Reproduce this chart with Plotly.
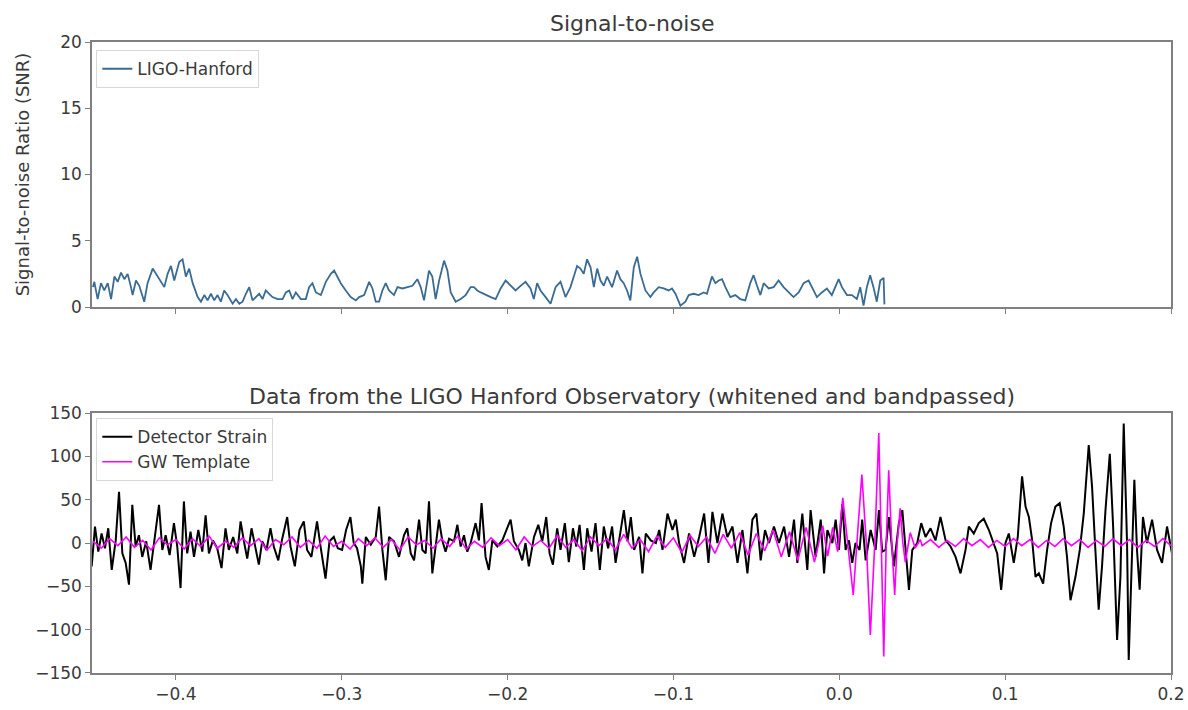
import plotly.graph_objects as go
from plotly.subplots import make_subplots

# ---------------------------------------------------------------
# Signal-to-noise ratio time series (LIGO-Hanford), seconds vs SNR
# ---------------------------------------------------------------
snr_time = [
    -0.4500, -0.4492, -0.4472, -0.4452, -0.4432, -0.4411, -0.4391, -0.4371, -0.4351, -0.4331,
    -0.4311, -0.4291, -0.4271, -0.4261, -0.4241, -0.4221, -0.4191, -0.4171, -0.4140, -0.4120,
    -0.4100, -0.4070, -0.4050, -0.4030, -0.4010, -0.3980, -0.3960, -0.3940, -0.3920, -0.3899,
    -0.3869, -0.3849, -0.3829, -0.3809, -0.3789, -0.3769, -0.3749, -0.3729, -0.3709, -0.3689,
    -0.3658, -0.3638, -0.3618, -0.3598, -0.3578, -0.3558, -0.3538, -0.3518, -0.3498, -0.3478,
    -0.3458, -0.3438, -0.3418, -0.3387, -0.3357, -0.3337, -0.3317, -0.3297, -0.3277, -0.3247,
    -0.3217, -0.3197, -0.3177, -0.3156, -0.3126, -0.3096, -0.3066, -0.3046, -0.3026, -0.3006,
    -0.2976, -0.2946, -0.2915, -0.2895, -0.2865, -0.2835, -0.2815, -0.2795, -0.2775, -0.2755,
    -0.2735, -0.2715, -0.2685, -0.2664, -0.2634, -0.2604, -0.2574, -0.2544, -0.2524, -0.2504,
    -0.2474, -0.2454, -0.2434, -0.2413, -0.2383, -0.2363, -0.2343, -0.2313, -0.2283, -0.2253,
    -0.2223, -0.2203, -0.2183, -0.2162, -0.2132, -0.2102, -0.2072,
    -0.2042, -0.2012, -0.1982, -0.1952, -0.1922, -0.1892, -0.1862, -0.1842, -0.1822, -0.1802,
    -0.1771, -0.1741, -0.1711, -0.1681, -0.1651, -0.1621, -0.1601, -0.1581, -0.1561, -0.1541,
    -0.1521, -0.1500, -0.1480, -0.1460, -0.1440, -0.1420, -0.1400, -0.1370, -0.1340, -0.1320,
    -0.1300, -0.1280, -0.1260, -0.1239, -0.1219, -0.1199, -0.1169, -0.1139, -0.1119, -0.1089,
    -0.1059, -0.1029, -0.1009, -0.0988, -0.0958, -0.0928, -0.0908, -0.0878, -0.0848, -0.0818,
    -0.0798, -0.0768, -0.0747, -0.0727, -0.0707, -0.0687, -0.0657, -0.0627, -0.0597, -0.0567,
    -0.0537, -0.0517, -0.0496, -0.0476, -0.0456, -0.0426, -0.0396, -0.0366, -0.0336, -0.0306,
    -0.0276, -0.0245, -0.0215, -0.0185, -0.0155, -0.0135, -0.0105, -0.0075, -0.0045, -0.0025,
    -0.0004, 0.0016, 0.0046, 0.0076, 0.0106, 0.0126, 0.0146, 0.0166, 0.0186, 0.0206,
    0.0226, 0.0247, 0.0267, 0.0272,
]
snr_value = [
    1.5, 1.9, 0.6, 1.8, 1.25, 1.8, 0.6, 2.3, 1.9, 2.6,
    2.1, 2.5, 1.5, 0.9, 2.0, 1.6, 0.4, 1.8, 2.9, 2.5,
    2.1, 1.5, 2.5, 3.1, 2.0, 3.4, 3.6, 2.3, 2.9, 1.8,
    0.75, 0.4, 0.9, 0.5, 1.0, 0.5, 0.9, 0.4, 1.25, 0.9,
    0.25, 0.6, 0.25, 0.4, 1.0, 1.5, 0.5, 0.75, 1.0, 0.6,
    1.25, 1.0, 0.75, 0.6, 0.6, 1.1, 1.25, 0.6, 1.1, 0.6,
    0.6, 1.5, 1.8, 1.1, 0.9, 1.9, 2.5, 2.75, 2.3, 1.8,
    1.25, 0.75, 0.5, 0.75, 0.9, 1.9, 1.4, 0.4, 0.4, 1.25,
    1.8, 1.25, 0.9, 1.5, 1.4, 1.5, 1.6, 2.1, 1.5, 0.5,
    2.75, 2.3, 0.6, 2.0, 3.5, 2.75, 1.1, 0.4, 0.6, 0.9,
    1.5, 1.5, 1.25, 1.1, 0.9, 0.75, 0.6,
    1.4, 2.0, 1.6, 1.25, 1.6, 1.9, 1.4, 0.6, 1.8, 1.25,
    0.75, 0.25, 1.5, 1.9, 0.75, 1.5, 2.3, 3.1, 2.9, 2.5,
    3.6, 3.0, 1.5, 2.9, 2.0, 1.6, 2.3, 1.5, 2.75, 2.1,
    1.8, 1.25, 0.5, 3.0, 3.8, 2.5, 1.25, 0.75, 1.1, 1.5,
    1.4, 1.25, 1.4, 1.0, 0.1, 0.4, 0.9, 1.0, 0.9, 1.1,
    1.0, 2.3, 1.8, 2.0, 2.1, 1.5, 0.75, 0.9, 0.6, 0.5,
    1.8, 2.4, 1.6, 0.9, 1.8, 1.4, 1.5, 2.0, 1.5, 1.1,
    0.75, 1.1, 1.8, 2.0, 1.25, 0.75, 1.1, 1.4, 0.9, 1.5,
    2.1, 1.5, 0.9, 0.9, 0.6, 1.5, 0.1, 1.5, 2.4, 1.5,
    0.4, 2.0, 2.2, 0.2,
]

# ---------------------------------------------------------------
# Whitened, bandpassed detector strain (Hanford)
# ---------------------------------------------------------------
strain_time = [
    -0.4524, -0.4508, -0.4488, -0.4468, -0.4448, -0.4428, -0.4408, -0.4387, -0.4363, -0.4343,
    -0.4323, -0.4303, -0.4283, -0.4263, -0.4243, -0.4223, -0.4203, -0.4179, -0.4153, -0.4126,
    -0.4102, -0.4082, -0.4062, -0.4038, -0.4012, -0.3992, -0.3972, -0.3952, -0.3932, -0.3912,
    -0.3891, -0.3865, -0.3841, -0.3821, -0.3801, -0.3777, -0.3751, -0.3725, -0.3701, -0.3681,
    -0.3655, -0.3630, -0.3610, -0.3590, -0.3570, -0.3544, -0.3520, -0.3500, -0.3480, -0.3454,
    -0.3430, -0.3410, -0.3383, -0.3359, -0.3329, -0.3309, -0.3283, -0.3255, -0.3229, -0.3209,
    -0.3183, -0.3149, -0.3128, -0.3098, -0.3074, -0.3048, -0.3024, -0.2998, -0.2974, -0.2948,
    -0.2928, -0.2908, -0.2885,
    -0.2876, -0.2855, -0.2825, -0.2795, -0.2775, -0.2755, -0.2735, -0.2715, -0.2685, -0.2655,
    -0.2625, -0.2605, -0.2584, -0.2564, -0.2534, -0.2514, -0.2494, -0.2474, -0.2454, -0.2434,
    -0.2414, -0.2394, -0.2374, -0.2353, -0.2323, -0.2303, -0.2283, -0.2263, -0.2243, -0.2223,
    -0.2193, -0.2173, -0.2157, -0.2133, -0.2113, -0.2092, -0.2062, -0.2032, -0.2002, -0.1982,
    -0.1962, -0.1932, -0.1912, -0.1892, -0.1872, -0.1841, -0.1815, -0.1791, -0.1767, -0.1747,
    -0.1727, -0.1701, -0.1681, -0.1655, -0.1631, -0.1606, -0.1586, -0.1566, -0.1540, -0.1520,
    -0.1494, -0.1470, -0.1444, -0.1420, -0.1394, -0.1370, -0.1349, -0.1319, -0.1299, -0.1277,
    -0.1257, -0.1237, -0.1207, -0.1187, -0.1167, -0.1137, -0.1106, -0.1086, -0.1066, -0.1036,
    -0.1006, -0.0986, -0.0966, -0.0936, -0.0906, -0.0875, -0.0845, -0.0815, -0.0789, -0.0765,
    -0.0735, -0.0705, -0.0675, -0.0644, -0.0614, -0.0584, -0.0554, -0.0524, -0.0500, -0.0474,
    -0.0448, -0.0424, -0.0394, -0.0364, -0.0333, -0.0303, -0.0273, -0.0253, -0.0223, -0.0193,
    -0.0173, -0.0143, -0.0112, -0.0092, -0.0072, -0.0042, -0.0022, -0.0002, 0.0018, 0.0038,
    0.0058, 0.0078, 0.0098, 0.0122, 0.0138, 0.0159, 0.0189, 0.0219, 0.0239, 0.0259,
    0.0279, 0.0299, 0.0329, 0.0359,
    0.0380, 0.0400, 0.0420, 0.0440, 0.0470, 0.0494, 0.0520, 0.0550, 0.0580, 0.0610,
    0.0641, 0.0671, 0.0701, 0.0731, 0.0761, 0.0781, 0.0811, 0.0841, 0.0871, 0.0902,
    0.0932, 0.0952, 0.0976, 0.1002, 0.1022, 0.1052, 0.1076, 0.1102, 0.1123, 0.1143,
    0.1163, 0.1183, 0.1203, 0.1229, 0.1253, 0.1277, 0.1303, 0.1329, 0.1353, 0.1373,
    0.1394, 0.1424, 0.1450, 0.1474, 0.1504, 0.1524, 0.1544, 0.1564, 0.1584, 0.1605,
    0.1631, 0.1651, 0.1675, 0.1695, 0.1715, 0.1735, 0.1745, 0.1765, 0.1779, 0.1795,
    0.1811, 0.1831, 0.1855, 0.1886, 0.1916, 0.1946, 0.1976, 0.2006, 0.2036,
]
strain_value = [
    7, -27, 19, -10, 11, -6, 17, -31, 3, 59,
    -12, -23, -48, 44, -4, 9, -16, 2, -31, 7,
    44, -8, 9, -14, 23, -4, -52, 48, -12, 13,
    -16, 15, -10, 32, -12, 3, -6, -29, 17, -8,
    7, -12, 25, 2, -18, 17, -4, -25, 2, -8,
    17, -4, -20, 5, 30, -4, -27, 15, 25, -8,
    -16, 25, -4, -41, 2, 7, -6, -8, 15, 30,
    0, -6, -27,
    -47, 7, -2, 7, 42, -8, -43, 7, 2, -16,
    9, 17, -12, -20, 27, -8, -12, 48, -35, -4,
    27, 3, -10, 5, 2, 21, -4, 9, -10, 0,
    23, 3, 46, -16, -31, 3, -4, 3, 17, 27,
    2, -8, -20, 0, -27, 7, 21, 2, 30, -12,
    -25, 17, -8, 23, -22, 17, -4, 21, -31, 17,
    -10, 23, -31, 19, -6, 19, -23, 11, 38, 2,
    30, -8, 7, -35, 11, 3, 0, 15, -8, 34,
    15, 27, 0, -23, 11, -16, 7, 34, -23, 36,
    0, 34, 7, 19, -23, 15, -35, 27, 34, -20,
    15, 0, 19, 0, 19, -16, 27, -23, 34, -31,
    38, -16, 27, -35, 15, 0, 27, -8, 45, -8,
    3, -23, 0, -8, 27, -20, 15, -8, 38, -10,
    -8, 30, -27, 23,
    38, -8, -54, -8, 0, 23, 7, 17, 3, 30,
    3, -4, -16, -35, -8, 19, 11, 23, 28, 15,
    0, -12, -54, 0, 11, -23, 7, 77, 42, 30,
    3, -39, -35, -47, -8, 23, 42, 46, 19, -16,
    -66, -39, -8, 34, 113, 65, -8, -77, -27, 38,
    103, 19, -112, -39, 138, 0, -135, 0, 73, -8,
    -54, 30, 0, 27, -8, -23, 19, -12, 7,
]

# ---------------------------------------------------------------
# Best-fit GW template, whitened and bandpassed the same way
# ---------------------------------------------------------------
template_time = [
    -0.450, -0.445, -0.440, -0.435, -0.430, -0.425, -0.420, -0.415, -0.410, -0.405,
    -0.400, -0.395, -0.390, -0.385, -0.380, -0.375, -0.370, -0.365, -0.360, -0.355,
    -0.350, -0.345, -0.340, -0.335, -0.330, -0.325, -0.320, -0.315, -0.310, -0.305,
    -0.300, -0.295, -0.290, -0.285, -0.280, -0.275, -0.270, -0.265, -0.260, -0.255,
    -0.250, -0.245, -0.240, -0.235, -0.230, -0.225, -0.220, -0.215, -0.210, -0.205,
    -0.200, -0.195, -0.190, -0.185, -0.180, -0.175, -0.170, -0.165, -0.160, -0.155,
    -0.150, -0.145, -0.140, -0.135, -0.130, -0.125, -0.120, -0.115, -0.110, -0.105,
    -0.100, -0.095, -0.090, -0.085, -0.080, -0.075, -0.070, -0.065, -0.060, -0.055,
    -0.050, -0.045, -0.040, -0.035, -0.030, -0.025, -0.020, -0.015, -0.010,
    -0.0070, -0.0040, -0.0010, 0.0021, 0.0051, 0.0084, 0.0108, 0.0136, 0.0163, 0.0187,
    0.0214, 0.0238, 0.0253, 0.0268, 0.0283, 0.0298, 0.0316, 0.0334, 0.0349, 0.0367,
    0.0383, 0.0398, 0.0428, 0.0458, 0.0488,
    0.050, 0.055, 0.060, 0.065, 0.070, 0.075, 0.080, 0.085, 0.090, 0.095,
    0.100, 0.105, 0.110, 0.115, 0.120, 0.125, 0.130, 0.135, 0.140, 0.145,
    0.150, 0.155, 0.160, 0.165, 0.170, 0.175, 0.180, 0.185, 0.190, 0.195,
    0.200,
]
template_value = [
    2, -6, 5, -3, 7, -5, 3, -8, 6, -2,
    4, -7, 5, -4, 8, -6, 2, -5, 6, -3,
    5, -8, 4, -2, 7, -5, 3, -6, 8, -4,
    2, -7, 5, -3, 6, -5, 4, -8, 7, -2,
    3, -6, 5, -4, 8, -7, 2, -5, 6, -3,
    4, -8, 7, -4, 3, -6, 9, -5, 4, -9,
    7, -3, 5, -8, 10, -6, 4, -10, 8, -5,
    6, -11, 9, -4, 7, -12, 10, -6, 12, -14,
    11, -9, 15, -16, 13, -20, 18, -22, 20,
    -15, 18, -10, 52, 0, -60, 5, 79, 0, -106,
    0, 127, 0, -131, 0, 84, 0, -60, 0, 40,
    0, -22, 12, -6, 4,
    -3, 4, -5, 3, -4, 5, -3, 4, -5, 3,
    -4, 5, -3, 4, -5, 3, -4, 5, -3, 4,
    -5, 3, -4, 5, -3, 4, -5, 3, -4, 5,
    -3,
]

x_range = [-0.4506, 0.2]
text_color = "#3a3a3a"
spine_color = "#808080"
font_family = "DejaVu Sans"

fig = make_subplots(rows=2, cols=1)

fig.add_trace(go.Scatter(
    x=snr_time, y=snr_value, mode="lines", name="LIGO-Hanford",
    line=dict(color="#3a6b93", width=1.8), legend="legend",
), row=1, col=1)

fig.add_trace(go.Scatter(
    x=strain_time, y=strain_value, mode="lines", name="Detector Strain",
    line=dict(color="#000000", width=2.0), legend="legend2",
), row=2, col=1)

fig.add_trace(go.Scatter(
    x=template_time, y=template_value, mode="lines", name="GW Template",
    line=dict(color="#ff00ff", width=1.6), legend="legend2",
), row=2, col=1)

axis_style = dict(
    showline=True, linecolor=spine_color, linewidth=1.5, mirror=True,
    ticks="outside", ticklen=5, tickwidth=1.2, tickcolor=spine_color,
    showgrid=False, zeroline=False, automargin=False,
    tickfont=dict(family=font_family, size=17, color=text_color),
)

fig.update_layout(
    width=1188, height=710,
    margin=dict(l=92, r=17, t=42, b=37),
    paper_bgcolor="white", plot_bgcolor="white",
    font=dict(family=font_family, color=text_color),
    xaxis=dict(domain=[0, 1], range=x_range, tick0=0, dtick=0.1,
               showticklabels=False, **axis_style),
    yaxis=dict(domain=[0.580, 1.0], range=[0, 20], tick0=0, dtick=5,
               title=dict(text="Signal-to-noise Ratio (SNR)", standoff=26,
                          font=dict(family=font_family, size=18, color=text_color)),
               **axis_style),
    xaxis2=dict(domain=[0, 1], range=x_range, tick0=0, dtick=0.1,
                tickformat=".1f", **axis_style),
    yaxis2=dict(domain=[0, 0.412], range=[-150, 150], tick0=0, dtick=50,
                **axis_style),
    legend=dict(x=0.004, y=0.987, xanchor="left", yanchor="top",
                bgcolor="rgba(255,255,255,0.85)", bordercolor="#d8d8d8", borderwidth=1,
                font=dict(family=font_family, size=17, color=text_color)),
    legend2=dict(x=0.004, y=0.404, xanchor="left", yanchor="top",
                 bgcolor="rgba(255,255,255,0.85)", bordercolor="#d8d8d8", borderwidth=1,
                 font=dict(family=font_family, size=17, color=text_color)),
    annotations=[
        dict(text="Signal-to-noise", xref="paper", yref="paper", x=0.5, y=1.0,
             xanchor="center", yanchor="bottom", yshift=4, showarrow=False,
             font=dict(family=font_family, size=22, color=text_color)),
        dict(text="Data from the LIGO Hanford Observatory (whitened and bandpassed)",
             xref="paper", yref="paper", x=0.5, y=0.412,
             xanchor="center", yanchor="bottom", yshift=2, showarrow=False,
             font=dict(family=font_family, size=22, color=text_color)),
    ],
    showlegend=True,
)

fig.write_html("out.html")
